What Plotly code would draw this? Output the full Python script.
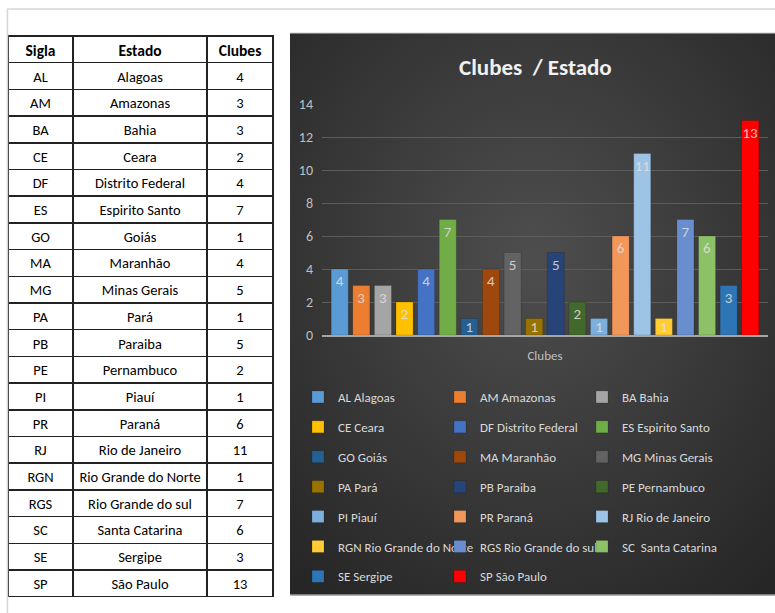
import base64
import plotly.graph_objects as go

siglas = ["AL", "AM", "BA", "CE", "DF", "ES", "GO", "MA", "MG", "PA",
          "PB", "PE", "PI", "PR", "RJ", "RGN", "RGS", "SC", "SE", "SP"]
estados = ["Alagoas", "Amazonas", "Bahia", "Ceara", "Distrito Federal",
           "Espirito Santo", "Goiás", "Maranhão", "Minas Gerais", "Pará",
           "Paraiba", "Pernambuco", "Piauí", "Paraná", "Rio de Janeiro",
           "Rio Grande do Norte", "Rio Grande do sul", "Santa Catarina",
           "Sergipe", "São Paulo"]
clubes = [4, 3, 3, 2, 4, 7, 1, 4, 5, 1, 5, 2, 1, 6, 11, 1, 7, 6, 3, 13]
table_header = ["Sigla", "Estado", "Clubes"]
legend_names = ["AL Alagoas", "AM Amazonas", "BA Bahia", "CE Ceara",
                "DF Distrito Federal", "ES Espirito Santo", "GO Goiás",
                "MA Maranhão", "MG Minas Gerais", "PA Pará", "PB Paraiba",
                "PE Pernambuco", "PI Piauí", "PR Paraná", "RJ Rio de Janeiro",
                "RGN Rio Grande do Norte", "RGS Rio Grande do sul",
                "SC  Santa Catarina", "SE Sergipe", "SP São Paulo"]
colors = ["#5B9BD5", "#ED7D31", "#A5A5A5", "#FFC000", "#4472C4", "#70AD47",
          "#255E91", "#9E480E", "#636363", "#997300", "#264478", "#43682B",
          "#7CAFDD", "#F1975A", "#9DC3E6", "#FFCD33", "#698ED0", "#8CC168",
          "#2E75B6", "#FF0000"]
category = "Clubes"

W, H = 775, 613
FONT = "Carlito, Calibri, Lato, sans-serif"

def px(x):
    return x / W

def py(y):
    return 1 - y / H

# keep multi-word names on one line in the table
estados_cell = [e.replace(" ", "\u00a0") for e in estados]

fig = go.Figure()

# Table
fig.add_trace(go.Table(
    domain=dict(x=[px(8), px(273)], y=[0, py(36)]),
    columnwidth=[65, 134, 66],
    header=dict(values=table_header,
                align="center", height=26.7,
                fill_color="white",
                line=dict(color="#222222", width=1.5),
                font=dict(family=FONT, size=15.5, color="black", weight="bold")),
    cells=dict(values=[siglas, estados_cell, clubes],
               align="center", height=26.7,
               fill_color="white",
               line=dict(color="#222222", width=1.5),
               font=dict(family=FONT, size=14.5, color="black")),
))

# Bars
legend_ids = ["legend", "legend2", "legend3"]
for i, (name, val, col) in enumerate(zip(legend_names, clubes, colors)):
    fig.add_trace(go.Bar(
        x=[category], y=[val], name=name,
        marker=dict(color=col, line=dict(color="rgba(0,0,0,0.25)", width=0.6)),
        text=[str(val)], textposition="inside",
        insidetextanchor="end" if val > 1 else "middle",
        textangle=0,
        textfont=dict(family=FONT, size=15, color="rgba(225,225,225,0.85)"),
        legend=legend_ids[i % 3], legendgroup=name,
        xaxis="x", yaxis="y",
    ))

# Gradient background via svg
svg = """<svg xmlns='http://www.w3.org/2000/svg' width='485' height='562' viewBox='0 0 485 562' preserveAspectRatio='none'>
<defs><radialGradient id='g' cx='0.5' cy='0.4' r='0.75'>
<stop offset='0' stop-color='#4e4e4e'/><stop offset='1' stop-color='#262626'/></radialGradient></defs>
<rect width='485' height='562' fill='url(#g)'/></svg>"""
src = "data:image/svg+xml;base64," + base64.b64encode(svg.encode()).decode()

legend_common = dict(
    orientation="v", bgcolor="rgba(0,0,0,0)", borderwidth=0,
    font=dict(family=FONT, size=13, color="#d9d9d9"),
    tracegroupgap=10, itemclick=False, itemdoubleclick=False,
    xanchor="left", yanchor="top", traceorder="grouped",
)

fig.update_layout(
    width=W, height=H, autosize=False,
    margin=dict(l=0, r=0, t=0, b=0, autoexpand=False),
    paper_bgcolor="white", plot_bgcolor="rgba(0,0,0,0)",
    barmode="group", bargap=0.031, bargroupgap=0.21,
    uniformtext=dict(minsize=15, mode="show"),
    xaxis=dict(domain=[px(322), px(768)], showgrid=False,
               showline=True, linecolor="#a6a6a6", linewidth=1.5,
               tickfont=dict(family=FONT, size=13, color="#bfbfbf"),
               ticklabelstandoff=8, fixedrange=True, automargin=False),
    yaxis=dict(domain=[py(335), py(104)], range=[0, 14], dtick=2,
               gridcolor="#5c5c5c", gridwidth=1, zeroline=False,
               showline=False,
               tickfont=dict(family=FONT, size=14, color="#bfbfbf"),
               ticklabelstandoff=8, fixedrange=True, automargin=False),
    legend=dict(x=px(298), y=py(382), **legend_common),
    legend2=dict(x=px(440), y=py(382), **legend_common),
    legend3=dict(x=px(582), y=py(382), **legend_common),
    images=[dict(source=src, xref="paper", yref="paper",
                 x=px(290), y=py(33), sizex=px(775) - px(290),
                 sizey=py(33) - py(595), sizing="stretch", layer="below",
                 xanchor="left", yanchor="top")],
    shapes=[
        dict(type="line", xref="paper", yref="paper",
             x0=px(7), x1=px(775), y0=py(9), y1=py(9),
             line=dict(color="#d6d6d6", width=1.5)),
        dict(type="line", xref="paper", yref="paper",
             x0=px(7.5), x1=px(7.5), y0=py(9), y1=0,
             line=dict(color="#d6d6d6", width=1.5)),
        dict(type="line", xref="paper", yref="paper",
             x0=px(290), x1=px(775), y0=py(595), y1=py(595),
             line=dict(color="#9a9a9a", width=1.5)),
        dict(type="line", xref="paper", yref="paper",
             x0=px(290), x1=px(775), y0=py(33), y1=py(33),
             line=dict(color="#cfcfcf", width=1)),
    ],
    annotations=[dict(text="<b>Clubes  / Estado</b>", xref="paper", yref="paper",
                      x=px(535), y=py(67), showarrow=False,
                      xanchor="center", yanchor="middle",
                      font=dict(family=FONT, size=23, color="#f0f0f0"))],
)

fig.write_html(
    "out.html",
    config={"responsive": False, "displayModeBar": False},
    post_script=(
        "document.documentElement.style.margin='0px';"
        "document.body.style.margin='0px';document.body.style.padding='0px';"
        "document.body.style.overflow='hidden';"
        "var gd=document.getElementById('{plot_id}');"
        "gd.style.position='absolute';gd.style.top='0px';gd.style.left='0px';"
    ),
)
